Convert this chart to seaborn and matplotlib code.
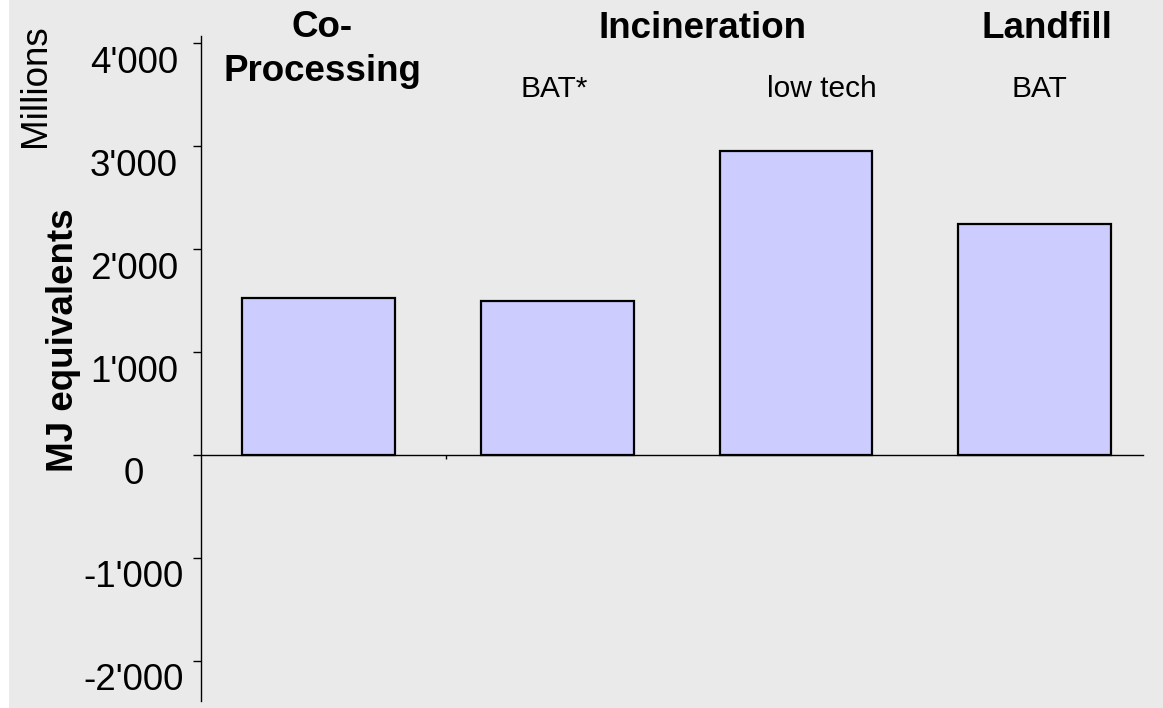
import matplotlib
matplotlib.use("Agg")
import matplotlib.pyplot as plt
import matplotlib.patches as mpatches
from matplotlib.ticker import FuncFormatter
from matplotlib.transforms import ScaledTranslation
import seaborn as sns

# data (MJ equivalents, millions)
categories = ['Co-Processing', 'Incineration BAT*', 'Incineration low tech', 'Landfill BAT']
values = [1523, 1500, 2948, 2245]
y_ticks = [-2000, -1000, 0, 1000, 2000, 3000, 4000]

group_titles = ['Co-', 'Processing', 'Incineration', 'Landfill']
sub_labels = ['BAT*', 'low tech', 'BAT']

bg = '#EAEAEA'
bar_color = '#CCCCFF'

W, H = 1163, 708
fig = plt.figure(figsize=(W / 100, H / 100), dpi=100, facecolor=bg)
plt.rcParams['font.family'] = ['Liberation Sans', 'DejaVu Sans']

# white strip on the left edge
fig.patches.append(mpatches.Rectangle((0, 0), 9 / W, 1, transform=fig.transFigure,
                                      facecolor='white', edgecolor='none', zorder=-1))

ax = fig.add_axes([201 / W, 1 - 701 / H, (1143 - 201) / W, (701 - 36) / H])
ax.patch.set_alpha(0)

sns.barplot(x=categories, y=values, color=bar_color, saturation=1, edgecolor='black',
            linewidth=1.6, width=0.64, ax=ax)

ax.set_xlim(-0.492, 3.454)
ax.set_ylim(-2390, 4070)

# axes look
for side in ['top', 'right']:
    ax.spines[side].set_visible(False)
ax.spines['bottom'].set_position(('data', 0))
ax.spines['left'].set_linewidth(1.0)
ax.spines['bottom'].set_linewidth(1.0)

ax.set_xticks([])
ax.set_xticks([0.534], minor=True)
ax.tick_params(axis='x', which='minor', length=3, width=1, direction='out')
ax.set_xlabel('')
ax.set_ylabel('')

ax.set_yticks(y_ticks)
ax.yaxis.set_major_formatter(FuncFormatter(lambda v, p: f"{v:,.0f}".replace(',', "'")))
ax.tick_params(axis='y', length=5.8, width=1, direction='out', pad=42.5, labelsize=26.5)
shift = ScaledTranslation(0, -0.16, fig.dpi_scale_trans)
for lab in ax.get_yticklabels():
    lab.set_horizontalalignment('center')
    lab.set_transform(lab.get_transform() + shift)

def px(x, y):
    return x / W, 1 - y / H

# axis titles
fig.text(*px(45, 86), 'Millions', rotation=90, rotation_mode='anchor',
         ha='center', va='baseline', fontsize=26.5)
fig.text(*px(73, 340), 'MJ equivalents', rotation=90, rotation_mode='anchor',
         ha='center', va='baseline', fontsize=26.5, fontweight='bold')

# group headings
title_pos = [(322.5, 37), (322, 81), (702.5, 38), (1047, 38)]
for t, (x, y) in zip(group_titles, title_pos):
    fig.text(*px(x, y), t, ha='center', va='baseline', fontsize=26.5, fontweight='bold')

sub_pos = [(554.5, 97), (821.5, 97), (1039.5, 97)]
for t, (x, y) in zip(sub_labels, sub_pos):
    fig.text(*px(x, y), t, ha='center', va='baseline', fontsize=21.5)

fig.savefig('out.png', dpi=100, facecolor=bg)
